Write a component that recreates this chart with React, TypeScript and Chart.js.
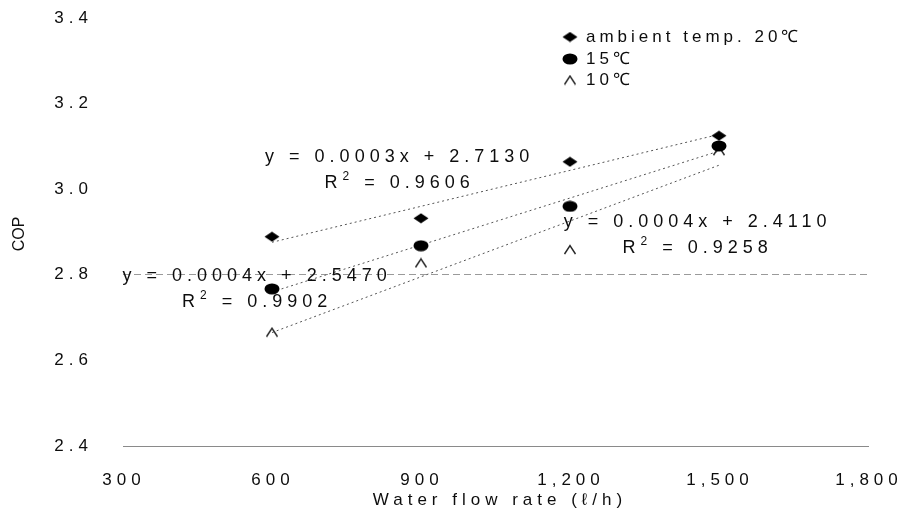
import React, { useEffect, useRef } from 'react';
import { Chart, registerables } from 'chart.js';

Chart.register(...registerables);

// ---------- data ----------
const flowRates = [600, 900, 1200, 1500];
const copAmbient20 = [2.889, 2.932, 3.064, 3.125];
const cop15 = [2.767, 2.868, 2.96, 3.101];
const cop10 = [2.666, 2.828, 2.859, 3.09];

const trendFlow = [600, 1500];
const trendAmbient20 = [2.876, 3.128];
const trend15 = [2.76, 3.089];
const trend10 = [2.665, 3.056];

const seriesNames = ['ambient temp. 20℃', '15℃', '10℃'];
const xTickValues = [300, 600, 900, 1200, 1500, 1800];
const yTickValues = [2.4, 2.6, 2.8, 3.0, 3.2, 3.4];

const eqAmbient20 = ['y = 0.0003x + 2.7130', 'R² = 0.9606'];
const eq10 = ['y = 0.0004x + 2.4110', 'R² = 0.9258'];
const eq15 = ['y = 0.0004x + 2.5470', 'R² = 0.9902'];

const xTitle = 'Water flow rate (ℓ/h)';
const yTitle = 'COP';

// ---------- styling / placement ----------
const FONT = '"Liberation Sans", Arial, Helvetica, sans-serif';
const TEXT = '#0d0d0d';

// equation anchors in data units (centre of first line)
const eqPlacements = [
  { lines: eqAmbient20, x: 852, y: 3.075 },
  { lines: eq10, x: 1452, y: 2.923 },
  { lines: eq15, x: 565, y: 2.797 },
];

function makeMarker(kind: string): HTMLCanvasElement {
  const c = document.createElement('canvas');
  const w = 16;
  const h = kind === 'ellipse' ? 12 : 11;
  c.width = w;
  c.height = h;
  const g = c.getContext('2d')!;
  g.fillStyle = '#000';
  g.strokeStyle = '#222';
  if (kind === 'diamond') {
    g.beginPath();
    g.moveTo(0.5, h / 2);
    g.lineTo(w / 2, 0.5);
    g.lineTo(w - 0.5, h / 2);
    g.lineTo(w / 2, h - 0.5);
    g.closePath();
    g.fill();
  } else if (kind === 'ellipse') {
    g.beginPath();
    g.ellipse(w / 2, h / 2, w / 2 - 0.5, h / 2 - 0.5, 0, 0, Math.PI * 2);
    g.fill();
  } else {
    g.lineWidth = 1.4;
    g.beginPath();
    g.moveTo(2.5, h - 1);
    g.lineTo(w / 2, 1.5);
    g.lineTo(w - 2.5, h - 1);
    g.stroke();
  }
  return c;
}

export default function App() {
  const ref = useRef<HTMLCanvasElement>(null);

  useEffect(() => {
    const canvas = ref.current!;
    const diamond = makeMarker('diamond');
    const ellipse = makeMarker('ellipse');
    const chevron = makeMarker('chevron');
    const markers = [diamond, ellipse, chevron];
    const toXY = (xs: number[], ys: number[]) => xs.map((x, i) => ({ x, y: ys[i] }));

    const drawRsq = (ctx: any, text: string, cx: number, cy: number) => {
      // draw "R²" with a raised, normal-looking superscript 2
      const rest = text.replace('R² ', '');
      ctx.save();
      ctx.textAlign = 'left';
      ctx.letterSpacing = '5px';
      ctx.font = `18px ${FONT}`;
      const wR = ctx.measureText('R').width;
      ctx.font = `12px ${FONT}`;
      const w2 = ctx.measureText('2').width;
      ctx.font = `18px ${FONT}`;
      const wRest = ctx.measureText(' ' + rest).width;
      const total = wR + w2 + wRest;
      let x = cx - total / 2 + 2.5;
      ctx.fillText('R', x, cy);
      x += wR;
      ctx.font = `12px ${FONT}`;
      ctx.fillText('2', x, cy - 6);
      x += w2;
      ctx.font = `18px ${FONT}`;
      ctx.fillText(' ' + rest, x, cy);
      ctx.restore();
    };

    const textPlugin = {
      id: 'copText',
      beforeDraw(chart: any) {
        (chart.ctx as any).letterSpacing = '5px';
      },
      afterDraw(chart: any) {
        const ctx = chart.ctx as any;
        const xs = chart.scales.x;
        const ys = chart.scales.y;
        ctx.save();
        ctx.fillStyle = TEXT;
        ctx.textBaseline = 'middle';
        ctx.textAlign = 'center';

        // regression equations
        ctx.font = `18px ${FONT}`;
        ctx.letterSpacing = '5px';
        eqPlacements.forEach((p) => {
          const px = xs.getPixelForValue(p.x) + 2.5;
          const py = ys.getPixelForValue(p.y);
          ctx.fillText(p.lines[0], px, py);
          drawRsq(ctx, p.lines[1], px - 2.5, py + 26);
        });

        // legend
        ctx.textAlign = 'left';
        ctx.font = `17px ${FONT}`;
        ctx.letterSpacing = '4px';
        const legY = [37, 59, 80];
        seriesNames.forEach((name, i) => {
          const m = markers[i];
          ctx.drawImage(m, 570 - m.width / 2, legY[i] - m.height / 2);
          ctx.fillText(name, 586, legY[i]);
        });

        // x title
        ctx.textAlign = 'center';
        ctx.font = `17px ${FONT}`;
        ctx.letterSpacing = '5px';
        ctx.fillText(xTitle, 500, 500);

        // y title
        ctx.letterSpacing = '0px';
        ctx.font = `16px ${FONT}`;
        ctx.translate(20, 234);
        ctx.rotate(-Math.PI / 2);
        ctx.fillText(yTitle, 0, 0);
        ctx.restore();
      },
    };

    const trendStyle = {
      showLine: true,
      borderColor: '#555',
      borderWidth: 1,
      borderDash: [2, 3],
      pointRadius: 0,
      order: 2,
    };

    const chart = new Chart(canvas, {
      type: 'scatter',
      data: {
        datasets: [
          { label: seriesNames[0], data: toXY(flowRates, copAmbient20), pointStyle: diamond as any, pointRadius: 8, order: 1 },
          { label: seriesNames[1], data: toXY(flowRates, cop15), pointStyle: ellipse as any, pointRadius: 8, order: 1 },
          { label: seriesNames[2], data: toXY(flowRates, cop10), pointStyle: chevron as any, pointRadius: 8, order: 1 },
          { label: 'trend 20', data: toXY(trendFlow, trendAmbient20), ...trendStyle },
          { label: 'trend 15', data: toXY(trendFlow, trend15), ...trendStyle },
          { label: 'trend 10', data: toXY(trendFlow, trend10), ...trendStyle },
        ] as any,
      },
      options: {
        responsive: false,
        animation: false,
        layout: { padding: { top: 18, right: 35, left: 0, bottom: 0 } },
        plugins: {
          legend: { display: false },
          tooltip: { enabled: false },
          title: { display: false },
        },
        scales: {
          x: {
            type: 'linear',
            min: 300,
            max: 1800,
            afterBuildTicks: (s: any) => {
              s.ticks = xTickValues.map((v) => ({ value: v }));
            },
            afterFit: (s: any) => {
              s.height = 68;
              s.paddingLeft = 0;
              s.paddingRight = 0;
            },
            grid: { color: 'transparent', drawTicks: false },
            border: { display: true, color: '#8a8a8a', width: 1, dash: [7, 3] },
            ticks: {
              autoSkip: false,
              maxRotation: 0,
              padding: 24,
              labelOffset: 1,
              color: TEXT,
              font: { family: FONT, size: 17 },
              callback: (v: any) => Number(v).toLocaleString('en-US'),
            },
          },
          y: {
            type: 'linear',
            min: 2.4,
            max: 3.4,
            afterBuildTicks: (s: any) => {
              s.ticks = yTickValues.map((v) => ({ value: v }));
            },
            afterFit: (s: any) => {
              s.width = 123;
              s.paddingTop = 0;
              s.paddingBottom = 0;
            },
            grid: {
              drawTicks: false,
              color: (c: any) =>
                c.tick && Math.abs(c.tick.value - 2.8) < 1e-6 ? '#9a9a9a' : 'transparent',
            },
            border: { display: false, dash: [7, 4] },
            ticks: {
              padding: 30,
              color: TEXT,
              font: { family: FONT, size: 17 },
              callback: (v: any) => Number(v).toFixed(1),
            },
          },
        },
      } as any,
      plugins: [textPlugin],
    });

    return () => chart.destroy();
  }, []);

  return (
    <div style={{ position: 'absolute', left: 0, top: 0, width: 903, height: 514, background: '#fff' }}>
      <canvas ref={ref} width={903} height={514} style={{ display: 'block' }} />
    </div>
  );
}
